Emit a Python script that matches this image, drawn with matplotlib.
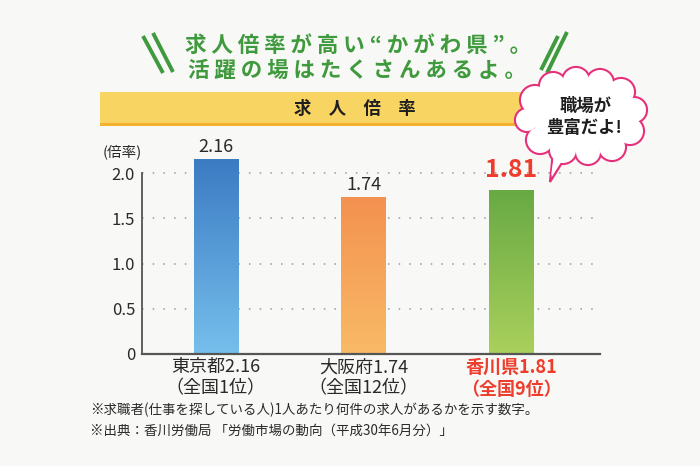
import matplotlib
matplotlib.use('Agg')
import matplotlib.pyplot as plt
from matplotlib.patches import Rectangle, Ellipse, Circle, Polygon
from matplotlib.colors import LinearSegmentedColormap
import numpy as np

plt.rcParams['font.family'] = ['Noto Sans CJK JP', 'DejaVu Sans']

# data
prefs = ['東京都', '大阪府', '香川県']
ratios = [2.16, 1.74, 1.81]
ranks = [1, 12, 9]
yticks = [0, 0.5, 1.0, 1.5, 2.0]
ytick_labels = ['0', '0.5', '1.0', '1.5', '2.0']

BG = '#f8f8f6'
GREEN = '#3f9a3e'
RED = '#ee3d2c'
TXT = '#2a2a2a'
grad_colors = [('#3b7bc3', '#76bfec'), ('#f39150', '#f9ba66'), ('#68a944', '#aad05c')]

fig = plt.figure(figsize=(7, 4.66), dpi=100)
fig.patch.set_facecolor(BG)

# chart axes, placed in pixel terms: x 142..600, y0 at 354 px from top
W, H = 700, 466
ymax = 2.3
px_per_unit = 90.5
ax = fig.add_axes([142 / W, (H - 354) / H, 458 / W, ymax * px_per_unit / H])
ax.set_facecolor('none')
x = np.arange(len(prefs))
bars = ax.bar(x, ratios, width=0.3, color=[c[0] for c in grad_colors], zorder=2)

for b, (top, bot) in zip(bars, grad_colors):
    cmap = LinearSegmentedColormap.from_list('g', [top, bot])
    grad = np.linspace(0, 1, 256).reshape(-1, 1)
    im = ax.imshow(grad, cmap=cmap, aspect='auto', origin='upper', zorder=3,
                   extent=[b.get_x(), b.get_x() + b.get_width(), 0, b.get_height()])
    im.set_clip_path(b)

ax.set_xlim(-0.5, 2.6)
ax.set_ylim(0, ymax)

for gy in yticks[1:]:
    ax.axhline(gy, color='#9a9a9a', lw=1.1, ls=(0, (1, 6)), zorder=1)

for s in ['top', 'right']:
    ax.spines[s].set_visible(False)
ax.spines['left'].set_bounds(0, 2.0)
ax.spines['left'].set_color('#555555')
ax.spines['left'].set_linewidth(1.3)
ax.spines['bottom'].set_color('#555555')
ax.spines['bottom'].set_linewidth(1.6)
ax.spines['bottom'].set_zorder(5)

ax.set_yticks(yticks)
ax.set_yticklabels(ytick_labels, fontsize=12, color=TXT)
ax.tick_params(axis='y', length=0, pad=5)

xlabels = [f'{p}{v:.2f}\n（全国{r}位）' for p, v, r in zip(prefs, ratios, ranks)]
ax.set_xticks(x)
ax.set_xticklabels(xlabels, fontsize=13, color=TXT, linespacing=1.2)
ax.tick_params(axis='x', length=0, pad=3)
lab = ax.get_xticklabels()[2]
lab.set_color(RED)
lab.set_fontweight('bold')

# value labels
for i, v in enumerate(ratios):
    if prefs[i] == '香川県':
        ax.annotate(f'{v:.2f}', (x[i], v), xytext=(0, 6), textcoords='offset points',
                    ha='center', va='bottom', fontsize=18, fontweight='bold', color=RED)
    else:
        ax.annotate(f'{v:.2f}', (x[i], v), xytext=(0, 2), textcoords='offset points',
                    ha='center', va='bottom', fontsize=13, color=TXT)

# overlay in pixel coordinates for decorations
ov = fig.add_axes([0, 0, 1, 1], zorder=10)
ov.set_xlim(0, W)
ov.set_ylim(H, 0)
ov.axis('off')

ov.text(122, 152, '(倍率)', ha='center', va='center', fontsize=10.5, color=TXT)

# title
ov.text(358, 45, ' '.join('求人倍率が高い“かがわ県”。'), ha='center', va='center',
        fontsize=15.5, fontweight='bold', color=GREEN)
ov.text(357, 70, ' '.join('活躍の場はたくさんあるよ。'), ha='center', va='center',
        fontsize=15.5, fontweight='bold', color=GREEN)
for (x1, y1, x2, y2) in [(143, 36, 163, 73), (153, 33, 173, 72),
                         (567, 32, 547, 73), (558, 36, 541, 70)]:
    ov.plot([x1, x2], [y1, y2], color=GREEN, lw=2.8, solid_capstyle='butt')

# banner
ov.add_patch(Rectangle((100, 92), 445, 32, facecolor='#f8d462', edgecolor='none', zorder=1))
ov.add_patch(Rectangle((100, 123), 445, 2.5, facecolor='#f4b12c', edgecolor='none', zorder=1))
ov.text(355, 109, '求　人　倍　率', ha='center', va='center', fontsize=12.5,
        fontweight='bold', color='#1e1e1e', zorder=2)

# speech bubble (cloud)
PINK = '#e6307a'
cx, cy = 583, 118
bumps = [(535, 100, 14), (553, 86, 13), (576, 81, 13), (600, 83, 13), (621, 92, 13),
         (634, 110, 12), (630, 131, 13), (612, 147, 13), (588, 152, 12), (563, 150, 13),
         (540, 140, 13), (527, 120, 11)]
tail = [(553, 152), (550, 182), (570, 150)]
for (bx, by, r) in bumps:
    ov.add_patch(Circle((bx, by), r, facecolor='none', edgecolor=PINK, lw=3, zorder=3))
ov.add_patch(Polygon(tail, closed=True, facecolor='white', edgecolor=PINK, lw=1.6, zorder=3))
for (bx, by, r) in bumps:
    ov.add_patch(Circle((bx, by), r, facecolor='white', edgecolor='none', zorder=4))
ov.add_patch(Ellipse((cx, cy), 100, 66, facecolor='white', edgecolor='none', zorder=4))
ov.add_patch(Polygon([(555, 148), (551, 176), (567, 148)], closed=True,
                     facecolor='white', edgecolor='none', zorder=4))
ov.text(586, 106, '職場が', ha='center', va='center', fontsize=12.5,
        fontweight='bold', color='#1e1e1e', zorder=5)
ov.text(584, 128, '豊富だよ!', ha='center', va='center', fontsize=12.5,
        fontweight='bold', color='#1e1e1e', zorder=5)

# footnotes
ov.text(90, 410, '※求職者(仕事を探している人)1人あたり何件の求人があるかを示す数字。',
        ha='left', va='center', fontsize=9.7, color=TXT)
ov.text(90, 431, '※出典：香川労働局 「労働市場の動向（平成30年6月分）」',
        ha='left', va='center', fontsize=9.7, color=TXT)

fig.savefig('out.png', dpi=100, facecolor=BG)
